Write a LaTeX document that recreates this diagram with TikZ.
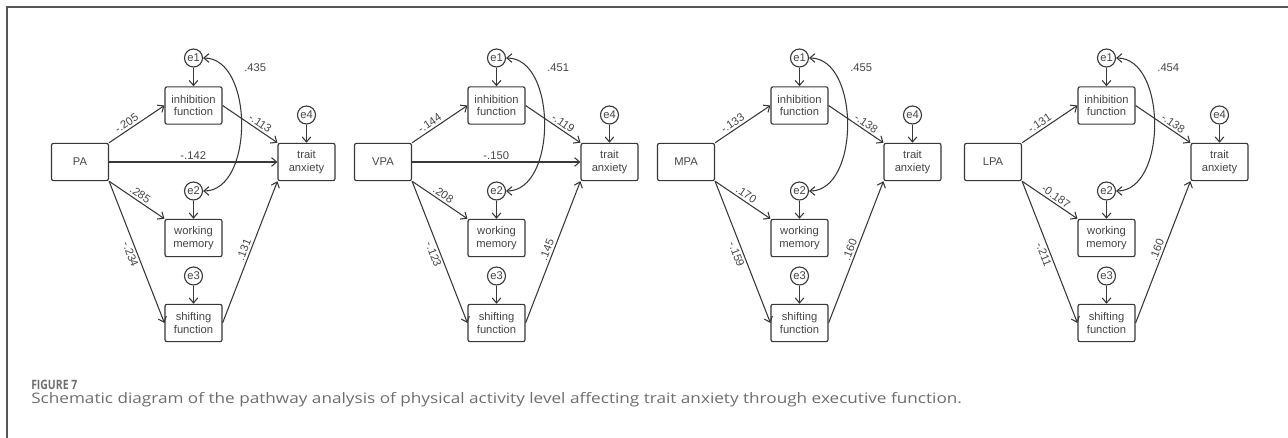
\documentclass[tikz,border=0pt]{standalone}
\usepackage{fontspec}
\setmainfont{Liberation Sans}
\newfontfamily\capfont{Open Sans}
\usetikzlibrary{arrows.meta}
\definecolor{ln}{HTML}{383838}
\definecolor{tx}{HTML}{454545}
\definecolor{fr}{HTML}{555555}
\definecolor{capc}{HTML}{6E6E6E}
\tikzset{
  box/.style={draw=ln, line width=0.85pt, rounded corners=1.5pt, minimum width=42.75pt, minimum height=28pt, inner sep=0pt, align=center, text=tx, font=\fontsize{8.4}{9.3}\selectfont},
  err/.style={draw=ln, line width=0.85pt, circle, minimum size=13.5pt, inner sep=0pt, text=tx, font=\fontsize{8.4}{9.3}\selectfont},
  link/.style={draw=ln, line width=0.8pt, -{Straight Barb[length=3.8pt,width=6.5pt]}},
  cov/.style={draw=ln, line width=0.8pt, {Straight Barb[length=3.8pt,width=6.5pt]}-{Straight Barb[length=3.8pt,width=6.5pt]}},
  coef/.style={font=\fontsize{8.4}{9.3}\selectfont, text=tx, inner sep=1.5pt},
  covlab/.style={coef, pos=0.1, anchor=west, xshift=18.75pt, yshift=-4.5pt},
}
\begin{document}
\begin{tikzpicture}[x=0.75pt, y=-0.75pt]
\useasboundingbox (0,0) rectangle (1288,438);
\draw[fr, line width=1.1pt] (7,438) -- (7,7) -- (1288,7);

% ---------- panel 1 ----------
\begin{scope}
\node[box] (src1) at (80,162) {PA};
\node[box] (inh1) at (193.5,105.5) {inhibition\\function};
\node[box] (wm1) at (193.5,238) {working\\memory};
\node[box] (sh1) at (193.5,323) {shifting\\function};
\node[box] (ta1) at (306.5,162) {trait\\anxiety};
\node[err] (ea1) at (193.5,58) {e1};
\node[err] (eb1) at (193.5,191) {e2};
\node[err] (ec1) at (193.5,276) {e3};
\node[err] (ed1) at (306.5,115) {e4};
\draw[link] (ea1) -- (inh1);
\draw[link] (eb1) -- (wm1);
\draw[link] (ec1) -- (sh1);
\draw[link] (ed1) -- (ta1);
\draw[link] (src1.north east) -- node[coef,sloped,above,pos=0.38]{-.205} (inh1.west);
\draw[link] (src1.east) -- node[coef,above]{-.142} (ta1.west);
\draw[link] (src1.south east) -- node[coef,sloped,above,pos=0.5]{.285} (wm1.north west);
\draw[link] (src1.south east) -- node[coef,sloped,below,pos=0.5]{-.234} (sh1.west);
\draw[link] (inh1.east) -- node[coef,sloped,above,pos=0.62]{-.113} (ta1.north west);
\draw[link] (sh1.east) -- node[coef,sloped,above,pos=0.5]{.131} (ta1.south west);
\draw[cov] (ea1.east) .. controls +(51,0) and +(51,0) .. node[covlab]{.435} (eb1.east);
\end{scope}

% ---------- panel 2 ----------
\begin{scope}[shift={(303,0)}]
\node[box] (src2) at (80,162) {VPA};
\node[box] (inh2) at (193.5,105.5) {inhibition\\function};
\node[box] (wm2) at (193.5,238) {working\\memory};
\node[box] (sh2) at (193.5,323) {shifting\\function};
\node[box] (ta2) at (306.5,162) {trait\\anxiety};
\node[err] (ea2) at (193.5,58) {e1};
\node[err] (eb2) at (193.5,191) {e2};
\node[err] (ec2) at (193.5,276) {e3};
\node[err] (ed2) at (306.5,115) {e4};
\draw[link] (ea2) -- (inh2);
\draw[link] (eb2) -- (wm2);
\draw[link] (ec2) -- (sh2);
\draw[link] (ed2) -- (ta2);
\draw[link] (src2.north east) -- node[coef,sloped,above,pos=0.38]{-.144} (inh2.west);
\draw[link] (src2.east) -- node[coef,above]{-.150} (ta2.west);
\draw[link] (src2.south east) -- node[coef,sloped,above,pos=0.5]{.208} (wm2.north west);
\draw[link] (src2.south east) -- node[coef,sloped,below,pos=0.5]{-.123} (sh2.west);
\draw[link] (inh2.east) -- node[coef,sloped,above,pos=0.62]{-.119} (ta2.north west);
\draw[link] (sh2.east) -- node[coef,sloped,above,pos=0.5]{.145} (ta2.south west);
\draw[cov] (ea2.east) .. controls +(51,0) and +(51,0) .. node[covlab]{.451} (eb2.east);
\end{scope}

% ---------- panel 3 ----------
\begin{scope}[shift={(606,0)}]
\node[box] (src3) at (80,162) {MPA};
\node[box] (inh3) at (193.5,105.5) {inhibition\\function};
\node[box] (wm3) at (193.5,238) {working\\memory};
\node[box] (sh3) at (193.5,323) {shifting\\function};
\node[box] (ta3) at (306.5,162) {trait\\anxiety};
\node[err] (ea3) at (193.5,58) {e1};
\node[err] (eb3) at (193.5,191) {e2};
\node[err] (ec3) at (193.5,276) {e3};
\node[err] (ed3) at (306.5,115) {e4};
\draw[link] (ea3) -- (inh3);
\draw[link] (eb3) -- (wm3);
\draw[link] (ec3) -- (sh3);
\draw[link] (ed3) -- (ta3);
\draw[link] (src3.north east) -- node[coef,sloped,above,pos=0.38]{-.133} (inh3.west);
\draw[link] (src3.south east) -- node[coef,sloped,above,pos=0.5]{.170} (wm3.north west);
\draw[link] (src3.south east) -- node[coef,sloped,below,pos=0.5]{-.159} (sh3.west);
\draw[link] (inh3.east) -- node[coef,sloped,above,pos=0.62]{-.138} (ta3.north west);
\draw[link] (sh3.east) -- node[coef,sloped,above,pos=0.5]{.160} (ta3.south west);
\draw[cov] (ea3.east) .. controls +(51,0) and +(51,0) .. node[covlab]{.455} (eb3.east);
\end{scope}

% ---------- panel 4 ----------
\begin{scope}[shift={(913,0)}]
\node[box] (src4) at (80,162) {LPA};
\node[box] (inh4) at (193.5,105.5) {inhibition\\function};
\node[box] (wm4) at (193.5,238) {working\\memory};
\node[box] (sh4) at (193.5,323) {shifting\\function};
\node[box] (ta4) at (306.5,162) {trait\\anxiety};
\node[err] (ea4) at (193.5,58) {e1};
\node[err] (eb4) at (193.5,191) {e2};
\node[err] (ec4) at (193.5,276) {e3};
\node[err] (ed4) at (306.5,115) {e4};
\draw[link] (ea4) -- (inh4);
\draw[link] (eb4) -- (wm4);
\draw[link] (ec4) -- (sh4);
\draw[link] (ed4) -- (ta4);
\draw[link] (src4.north east) -- node[coef,sloped,above,pos=0.38]{-.131} (inh4.west);
\draw[link] (src4.south east) -- node[coef,sloped,above,pos=0.55]{-0.187} (wm4.north west);
\draw[link] (src4.south east) -- node[coef,sloped,below,pos=0.5]{-.211} (sh4.west);
\draw[link] (inh4.east) -- node[coef,sloped,above,pos=0.62]{-.138} (ta4.north west);
\draw[link] (sh4.east) -- node[coef,sloped,above,pos=0.5]{.160} (ta4.south west);
\draw[cov] (ea4.east) .. controls +(51,0) and +(51,0) .. node[covlab]{.454} (eb4.east);
\end{scope}

% ---------- caption ----------
\node[anchor=base west, inner sep=0, text=capc] (fig) at (31,389) {\resizebox{34.5pt}{7pt}{\capfont\bfseries FIGURE 7}};
\node[anchor=base west, inner sep=0, text=capc] (captxt) at (31,403) {\resizebox{698pt}{8.3pt}{\capfont Schematic diagram of the pathway analysis of physical activity level affecting trait anxiety through executive function.}};
\end{tikzpicture}
\end{document}
